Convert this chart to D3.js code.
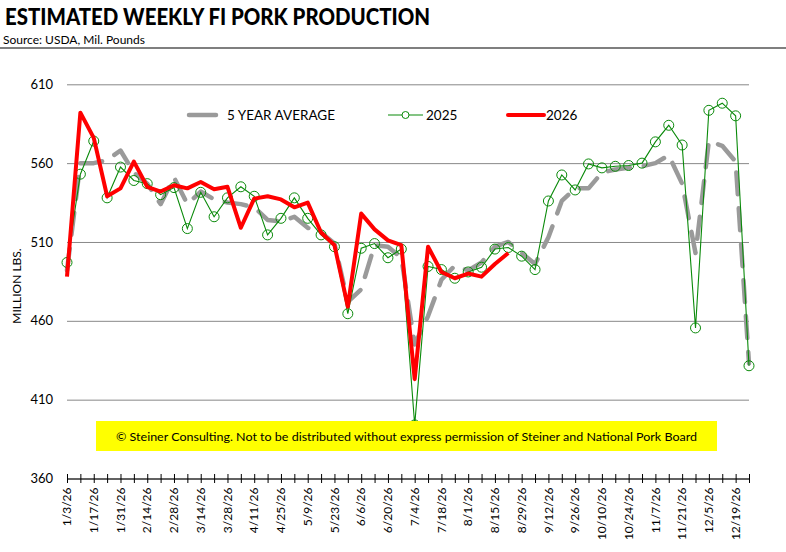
<!DOCTYPE html>
<html>
<head>
<meta charset="utf-8">
<script src="https://cdn.jsdelivr.net/npm/d3@7"></script>
<style>
  body { margin: 0; background: #fff; }
  svg { display: block; font-family: Lato, "Open Sans", sans-serif; }
</style>
</head>
<body>
<svg id="chart" width="786" height="552"></svg>
<script>
const WEEKS = ["1/3/26", "1/10/26", "1/17/26", "1/24/26", "1/31/26", "2/7/26", "2/14/26", "2/21/26",
  "2/28/26", "3/7/26", "3/14/26", "3/21/26", "3/28/26", "4/4/26", "4/11/26", "4/18/26", "4/25/26",
  "5/2/26", "5/9/26", "5/16/26", "5/23/26", "5/30/26", "6/6/26", "6/13/26", "6/20/26", "6/27/26",
  "7/4/26", "7/11/26", "7/18/26", "7/25/26", "8/1/26", "8/8/26", "8/15/26", "8/22/26", "8/29/26",
  "9/5/26", "9/12/26", "9/19/26", "9/26/26", "10/3/26", "10/10/26", "10/17/26", "10/24/26",
  "10/31/26", "11/7/26", "11/14/26", "11/21/26", "11/28/26", "12/5/26", "12/12/26", "12/19/26",
  "12/26/26"];

// every other week gets a label
const TICK_LABELS = WEEKS.filter((d, i) => i % 2 == 0);
const Y_TICKS = [360, 410, 460, 510, 560, 610];

const AVG5 = [492, 560, 560, 562, 568, 554, 547, 534, 551, 534, 542, 537, 535, 534, 532, 524,
  523, 526, 519, 516, 509, 472, 480, 508, 507, 500, 445, 463, 486, 495, 492, 497, 507, 510, 503,
  496, 513, 536, 544, 544, 554, 556, 557, 558, 560, 565, 547, 503, 574, 571, 561, 433];

const Y2025 = [497, 553, 574, 538, 557.5, 549, 547, 540, 544.5, 518.5, 541.5, 526, 538, 545, 539,
  514.5, 525, 538, 525, 514.5, 507, 464.5, 506, 509, 500, 505.5, 394, 494.5, 492.5, 487, 491, 494,
  505.5, 506.5, 501, 492.5, 536, 552.5, 543, 559.5, 557, 558, 558.5, 560, 573.5, 584, 571.5, 455.5,
  593.5, 598, 590, 431.5];

const Y2026 = [488, 592, 576, 539, 544, 561, 545, 542, 546, 544, 548, 543.5, 545, 519, 537.5, 539,
  537, 532, 535, 516, 508, 469, 528, 518, 511, 508, 423, 507, 491, 487, 490, 488, 496, 503];

const SVG = d3.select("#chart");
const PLOT = { left: 67, right: 749, top: 84.3, bottom: 478.5 };
const GRAY = "#9a9a9a";
const GREEN = "#0a8a0a";
const RED = "#ff0000";

const xScale = d3.scalePoint().domain(WEEKS).range([PLOT.left, PLOT.right]);
const yScale = d3.scaleLinear().domain([360, 610]).range([PLOT.bottom, PLOT.top]);

// title block
SVG.append("text")
  .attr("x", 5)
  .attr("y", 25)
  .attr("font-size", 22.5)
  .attr("font-weight", 900)
  .attr("textLength", 425)
  .attr("lengthAdjust", "spacingAndGlyphs")
  .text("ESTIMATED WEEKLY FI PORK PRODUCTION");

SVG.append("text")
  .attr("x", 3)
  .attr("y", 44)
  .attr("font-size", 12)
  .text("Source: USDA, Mil. Pounds");

SVG.append("line")
  .attr("x1", 0)
  .attr("x2", 786)
  .attr("y1", 48)
  .attr("y2", 48)
  .attr("stroke", "#000")
  .attr("stroke-width", 1.2);

// gridlines + y labels
const yAxis = SVG.append("g")
  .attr("transform", "translate(" + PLOT.left + ",0)")
  .call(d3.axisLeft(yScale).tickValues(Y_TICKS).tickSize(-(PLOT.right - PLOT.left)).tickPadding(14));
yAxis.select(".domain").remove();
yAxis.selectAll(".tick line").attr("stroke", "#888").attr("stroke-width", 1);
yAxis.selectAll(".tick text").attr("font-size", 13).attr("font-family", "Lato").attr("fill", "#000");

SVG.append("text")
  .attr("text-anchor", "middle")
  .attr("transform", "translate(21,286) rotate(-90)")
  .attr("font-size", 12)
  .text("MILLION LBS.");

// x axis with crossing ticks
const xAxis = SVG.append("g")
  .attr("transform", "translate(0," + PLOT.bottom + ")")
  .call(d3.axisBottom(xScale).tickSizeInner(4.5).tickSizeOuter(0).tickFormat(""));
xAxis.select(".domain").attr("stroke", "#000");
xAxis.selectAll(".tick line").attr("y1", -4.5).attr("stroke", "#000");

SVG.append("g")
  .selectAll("text")
  .data(TICK_LABELS)
  .join("text")
  .attr("text-anchor", "end")
  .attr("font-size", 12)
  .attr("dy", "0.35em")
  .attr("transform", (d) => "translate(" + xScale(d) + "," + (PLOT.bottom + 9) + ") rotate(-90)")
  .text((d) => d);

// series
const line = (arr) =>
  d3.line()
    .x((d, i) => xScale(WEEKS[i]))
    .y((d) => yScale(d))(arr);

SVG.append("path")
  .attr("d", line(AVG5))
  .attr("fill", "none")
  .attr("stroke", GRAY)
  .attr("stroke-width", 4.5)
  .attr("stroke-linecap", "round")
  .attr("stroke-linejoin", "round")
  .attr("stroke-dasharray", "22,14");

SVG.append("path")
  .attr("d", line(Y2025))
  .attr("fill", "none")
  .attr("stroke", GREEN)
  .attr("stroke-width", 1.1);

SVG.append("g")
  .selectAll("circle")
  .data(Y2025)
  .join("circle")
  .attr("cx", (d, i) => xScale(WEEKS[i]))
  .attr("cy", (d) => yScale(d))
  .attr("r", 5)
  .attr("fill", "none")
  .attr("stroke", GREEN)
  .attr("stroke-width", 1);

SVG.append("path")
  .attr("d", line(Y2026))
  .attr("fill", "none")
  .attr("stroke", RED)
  .attr("stroke-width", 4)
  .attr("stroke-linejoin", "round");

// legend
const legend = SVG.append("g");
legend.append("line")
  .attr("x1", 189).attr("x2", 216).attr("y1", 115).attr("y2", 115)
  .attr("stroke", GRAY).attr("stroke-width", 4.5).attr("stroke-linecap", "round");
legend.append("text").attr("x", 227).attr("y", 120).attr("font-size", 13.5).text("5 YEAR AVERAGE");

legend.append("line")
  .attr("x1", 388).attr("x2", 423).attr("y1", 115).attr("y2", 115)
  .attr("stroke", GREEN).attr("stroke-width", 1.1);
legend.append("circle")
  .attr("cx", 405.5).attr("cy", 115).attr("r", 3.5)
  .attr("fill", "#fff").attr("stroke", GREEN);
legend.append("text").attr("x", 426).attr("y", 120).attr("font-size", 13.5).text("2025");

legend.append("line")
  .attr("x1", 508).attr("x2", 544).attr("y1", 115).attr("y2", 115)
  .attr("stroke", RED).attr("stroke-width", 4).attr("stroke-linecap", "round");
legend.append("text").attr("x", 546).attr("y", 120).attr("font-size", 13.5).text("2026");

// copyright banner sits on top of the plot
SVG.append("rect")
  .attr("x", 96)
  .attr("y", 421)
  .attr("width", 621)
  .attr("height", 30)
  .attr("fill", "#ffff00");

SVG.append("text")
  .attr("x", 406.5)
  .attr("y", 441)
  .attr("text-anchor", "middle")
  .attr("font-size", 12)
  .attr("textLength", 581)
  .attr("lengthAdjust", "spacingAndGlyphs")
  .text("\u00A9 Steiner Consulting.  Not to be distributed without express permission of Steiner and National Pork Board");
</script>
</body>
</html>
